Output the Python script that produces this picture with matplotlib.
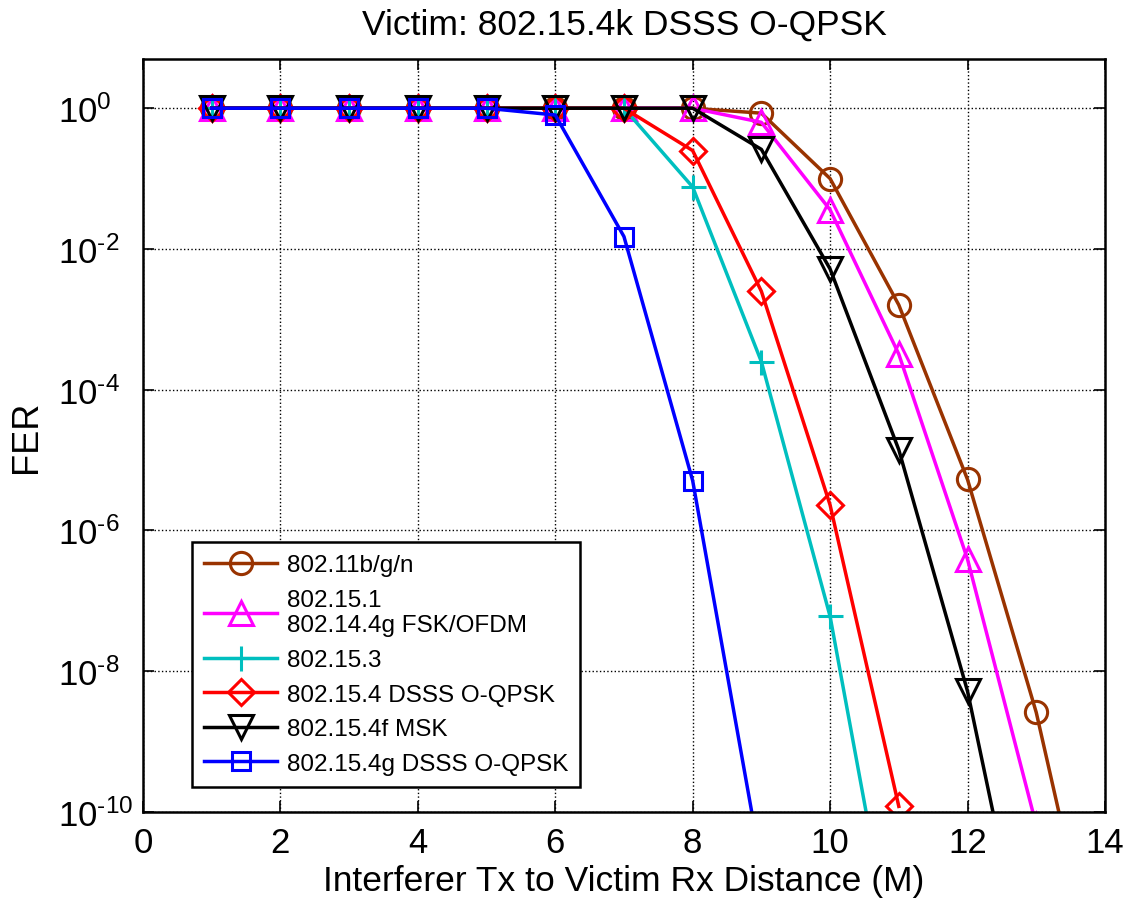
import matplotlib
matplotlib.use('Agg')
import matplotlib.pyplot as plt

plt.rcParams['font.family'] = ['Liberation Sans', 'DejaVu Sans']
plt.rcParams['mathtext.fontset'] = 'custom'
plt.rcParams['mathtext.rm'] = 'Liberation Sans'
plt.rcParams['mathtext.default'] = 'regular'

# distances (M)
dist = [1, 2, 3, 4, 5, 6, 7, 8, 9, 10, 11, 12, 13, 14]

# FER (points after the last visible one fall below the axis)
fer_11bgn = [1, 1, 1, 1, 1, 1, 1, 1, 0.85, 0.10, 1.6e-3, 5.3e-6, 2.6e-9, 1.3e-13]
fer_1551 = [1, 1, 1, 1, 1, 1, 1, 1, 0.63, 0.036, 3.2e-4, 3.9e-7, 6.5e-11]
fer_1553 = [1, 1, 1, 1, 1, 1, 1, 0.076, 2.5e-4, 6.0e-8, 3.0e-13]
fer_1554 = [1, 1, 1, 1, 1, 1, 1, 0.25, 2.5e-3, 2.3e-6, 1.2e-10]
fer_154f = [1, 1, 1, 1, 1, 1, 1, 1, 0.26, 5.2e-3, 1.4e-5, 5.2e-9, 1.2e-13]
fer_154g = [1, 1, 1, 1, 1, 0.8, 0.015, 5.1e-6, 1.7e-11]

labels = ['802.11b/g/n', '802.15.1\n802.14.4g FSK/OFDM', '802.15.3',
          '802.15.4 DSSS O-QPSK', '802.15.4f MSK', '802.15.4g DSSS O-QPSK']
series = [fer_11bgn, fer_1551, fer_1553, fer_1554, fer_154f, fer_154g]
colors = ['#993300', '#ff00ff', '#00bfbf', '#ff0000', '#000000', '#0000ff']
markers = ['o', '^', '+', 'D', 'v', 's']
msizes = [16, 17, 18, 13, 17, 13]

# y ticks every two decades, MATLAB style labels
yexp = [0, -2, -4, -6, -8, -10]
yticks = [10.0 ** e for e in yexp]
ylabels = ['$10^{0}$' if e == 0 else '$10^{\\text{-}%d}$' % -e for e in yexp]

fig = plt.figure(figsize=(11.32, 9.04), dpi=100)
ax = fig.add_axes([0.1263, 0.1007, 0.8498, 0.8329])

for vals, lab, c, m, ms in zip(series, labels, colors, markers, msizes):
    ax.semilogy(dist[:len(vals)], vals, color=c, marker=m, markersize=ms,
                markerfacecolor='none', markeredgecolor=c, markeredgewidth=2.2,
                linewidth=2.5, label=lab)

ax.set_xlim(0, 14)
ax.set_ylim(1e-10, 5)
ax.set_xticks(range(0, 15, 2))
ax.set_yticks(yticks, ylabels, ha='left')
ax.minorticks_off()

ax.grid(True, which='major', color='black', linestyle=':', linewidth=1.0)
ax.tick_params(direction='in', top=True, right=True, length=8, width=1.2,
               labelsize=25)
ax.tick_params(axis='x', pad=10)
ax.tick_params(axis='y', pad=61)
for sp in ax.spines.values():
    sp.set_linewidth(1.8)

ax.set_title('Victim: 802.15.4k DSSS O-QPSK', fontsize=25.5, pad=18)
ax.set_xlabel('Interferer Tx to Victim Rx Distance (M)', fontsize=25.5, labelpad=4)
ax.set_ylabel('FER', fontsize=26)
ax.yaxis.set_label_coords(-0.103, 0.5)

leg = ax.legend(loc='lower left', bbox_to_anchor=(0.051, 0.033), borderaxespad=0,
                fontsize=17.5, fancybox=False, edgecolor='black', framealpha=1,
                handlelength=3.0, handletextpad=0.4, labelspacing=0.52,
                borderpad=0.5)
leg.get_frame().set_linewidth(1.8)

fig.savefig('out.png', dpi=100)
